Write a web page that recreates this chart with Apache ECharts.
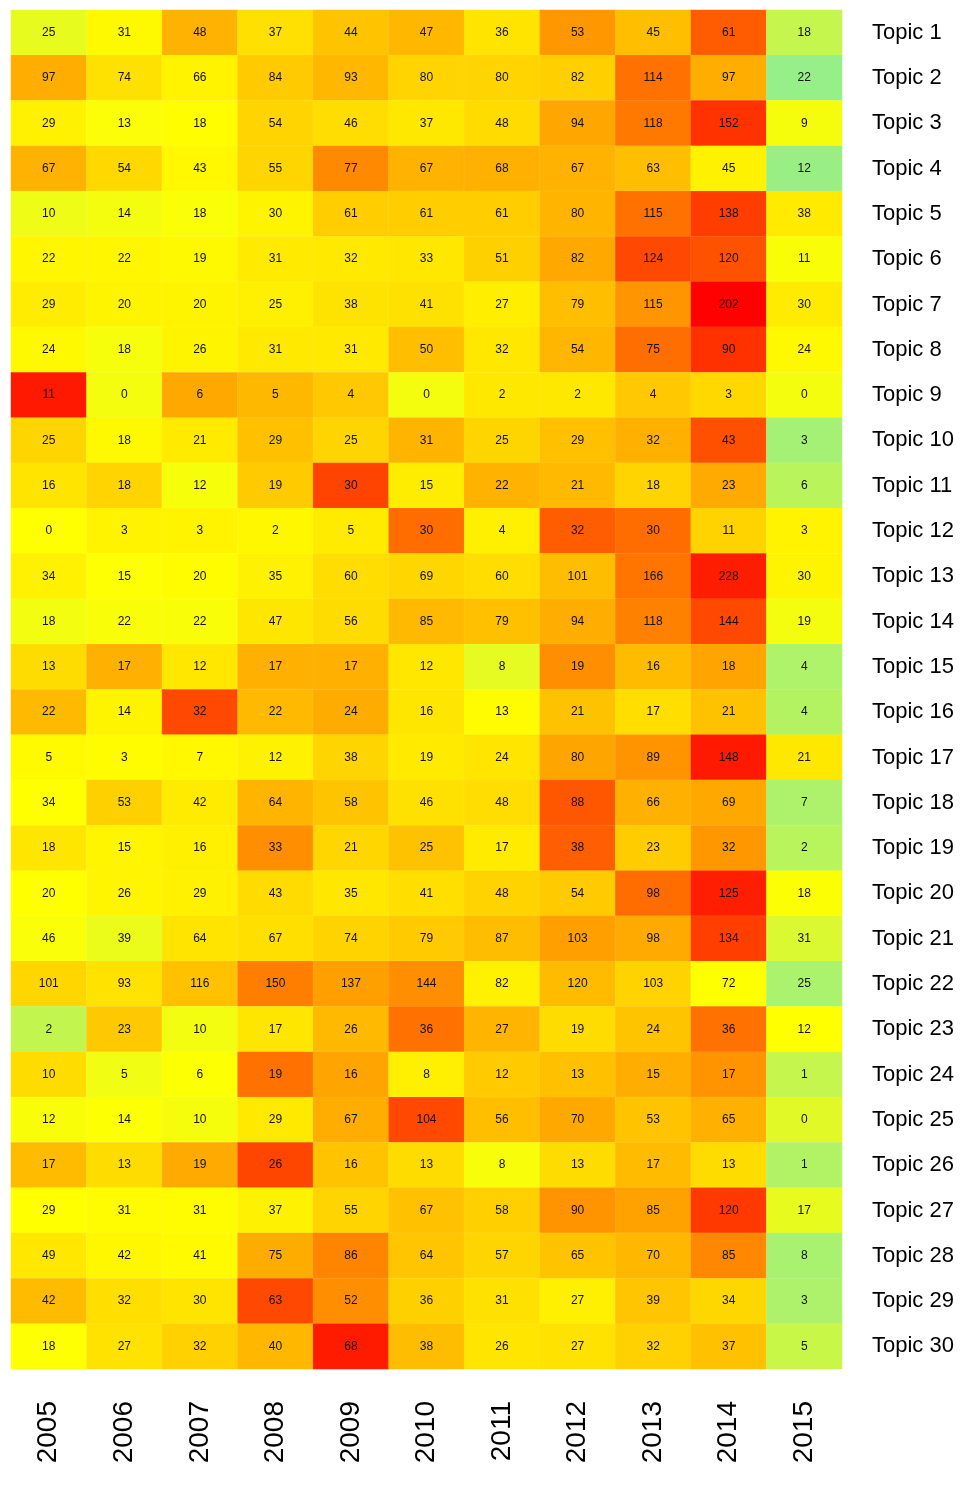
<!DOCTYPE html>
<html>
<head>
<meta charset="utf-8">
<script src="https://cdn.jsdelivr.net/npm/echarts@6/dist/echarts.min.js"></script>
<style>
html,body{margin:0;padding:0;background:#fff;}
#chart{width:962px;height:1487px;}
</style>
</head>
<body>
<div id="chart"></div>
<script>
const years = ['2005','2006','2007','2008','2009','2010','2011','2012','2013','2014','2015'];
const topics = Array.from({length:30}, (_, i) => 'Topic ' + (i + 1));
const counts = [
  [25,31,48,37,44,47,36,53,45,61,18],
  [97,74,66,84,93,80,80,82,114,97,22],
  [29,13,18,54,46,37,48,94,118,152,9],
  [67,54,43,55,77,67,68,67,63,45,12],
  [10,14,18,30,61,61,61,80,115,138,38],
  [22,22,19,31,32,33,51,82,124,120,11],
  [29,20,20,25,38,41,27,79,115,202,30],
  [24,18,26,31,31,50,32,54,75,90,24],
  [11,0,6,5,4,0,2,2,4,3,0],
  [25,18,21,29,25,31,25,29,32,43,3],
  [16,18,12,19,30,15,22,21,18,23,6],
  [0,3,3,2,5,30,4,32,30,11,3],
  [34,15,20,35,60,69,60,101,166,228,30],
  [18,22,22,47,56,85,79,94,118,144,19],
  [13,17,12,17,17,12,8,19,16,18,4],
  [22,14,32,22,24,16,13,21,17,21,4],
  [5,3,7,12,38,19,24,80,89,148,21],
  [34,53,42,64,58,46,48,88,66,69,7],
  [18,15,16,33,21,25,17,38,23,32,2],
  [20,26,29,43,35,41,48,54,98,125,18],
  [46,39,64,67,74,79,87,103,98,134,31],
  [101,93,116,150,137,144,82,120,103,72,25],
  [2,23,10,17,26,36,27,19,24,36,12],
  [10,5,6,19,16,8,12,13,15,17,1],
  [12,14,10,29,67,104,56,70,53,65,0],
  [17,13,19,26,16,13,8,13,17,13,1],
  [29,31,31,37,55,67,58,90,85,120,17],
  [49,42,41,75,86,64,57,65,70,85,8],
  [42,32,30,63,52,36,31,27,39,34,3],
  [18,27,32,40,68,38,26,27,32,37,5]
];
const palette = ['#90EE90','#FFFF00','#FFA500','#FF0000'];

// row-scaled (z-score) values drive the colour; raw counts are the labels
const data = [];
counts.forEach((row, r) => {
  const n = row.length;
  const mean = row.reduce((a, b) => a + b, 0) / n;
  const sd = Math.sqrt(row.reduce((a, b) => a + (b - mean) * (b - mean), 0) / (n - 1));
  row.forEach((v, c) => {
    data.push([c, r, sd > 0 ? (v - mean) / sd : 0, v]);
  });
});

const chart = echarts.init(document.getElementById('chart'), null, {renderer: 'canvas'});
chart.setOption({
  animation: false,
  backgroundColor: '#ffffff',
  textStyle: {fontFamily: 'Liberation Sans, Arial, sans-serif'},
  grid: {left: 11, right: 120, top: 10, bottom: 118},
  xAxis: {
    type: 'category',
    data: years,
    position: 'bottom',
    axisLine: {show: false},
    axisTick: {show: false},
    splitLine: {show: false},
    axisLabel: {rotate: 90, fontSize: 28, color: '#000', margin: 32, fontFamily: 'Liberation Sans, Arial, sans-serif'}
  },
  yAxis: {
    type: 'category',
    data: topics,
    position: 'right',
    inverse: true,
    axisLine: {show: false},
    axisTick: {show: false},
    splitLine: {show: false},
    axisLabel: {fontSize: 22, color: '#000', margin: 30, fontFamily: 'Liberation Sans, Arial, sans-serif'}
  },
  visualMap: {
    show: false,
    type: 'continuous',
    dimension: 2,
    min: -2.6,
    max: 2.6,
    inRange: {color: palette}
  },
  series: [{
    type: 'heatmap',
    data: data,
    encode: {x: 0, y: 1},
    itemStyle: {borderColor: 'rgba(255,255,255,0.15)', borderWidth: 0.5},
    label: {
      show: true,
      fontSize: 12,
      color: '#111',
      fontFamily: 'Liberation Sans, Arial, sans-serif',
      formatter: p => String(p.value[3])
    }
  }]
});
</script>
</body>
</html>
